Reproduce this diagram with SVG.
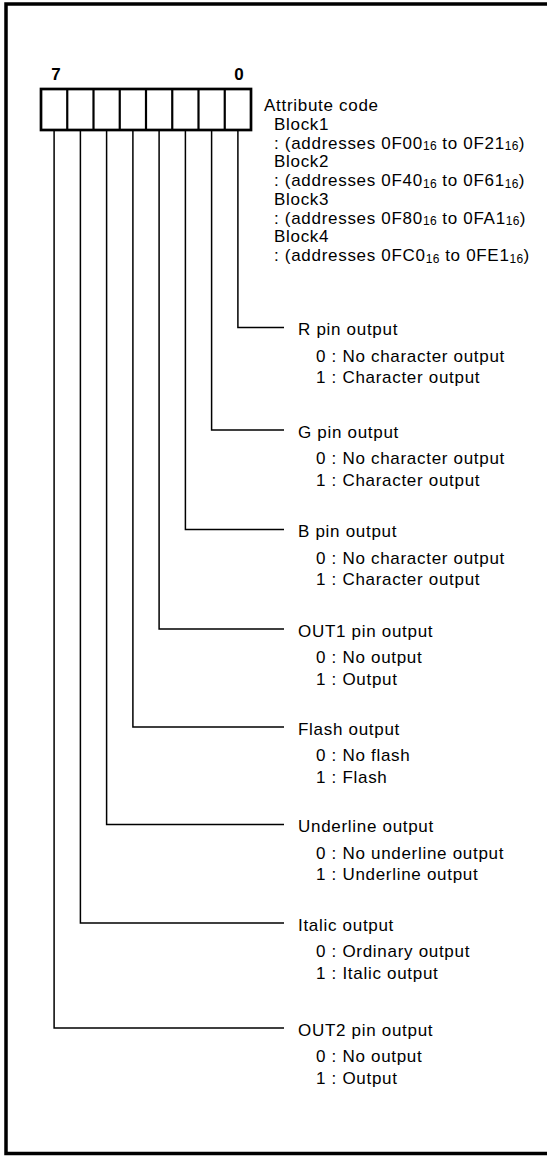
<svg xmlns="http://www.w3.org/2000/svg" width="547" height="1156" viewBox="0 0 547 1156">
<style>
text{font-family:"Liberation Sans",Arial,sans-serif;fill:#000;font-size:17px;letter-spacing:0.7px}
.bit{font-weight:bold;font-size:17px;text-anchor:middle;letter-spacing:0}
.sub{font-size:12px;letter-spacing:0.3px}
.frame{fill:none;stroke:#000;stroke-width:3.5}
.reg{fill:#fff;stroke:#000;stroke-width:2.7}
.div{stroke:#000;stroke-width:2.2}
.conn{fill:none;stroke:#000;stroke-width:1.5}
</style>
<rect width="547" height="1156" fill="#fff"/>
<path class="frame" d="M560,4 L6,4 L6,1153.5 L560,1153.5"/>
<g id="register">
<text class="bit" x="56" y="80">7</text>
<text class="bit" x="239" y="80">0</text>
<rect class="reg" x="41" y="89" width="210" height="41"/>
<path class="div" d="M67.25,89V130M93.5,89V130M119.75,89V130M146,89V130M172.25,89V130M198.5,89V130M224.75,89V130"/>
</g>
<g id="attribute">
<text x="264" y="111">Attribute code</text>
<text x="274" y="129.75">Block1</text>
<text x="274" y="148.5">: (addresses 0F00<tspan class="sub" dy="1.5">16</tspan><tspan dy="-1.5"> to 0F21</tspan><tspan class="sub" dy="1.5">16</tspan><tspan dy="-1.5">)</tspan></text>
<text x="274" y="167.25">Block2</text>
<text x="274" y="186">: (addresses 0F40<tspan class="sub" dy="1.5">16</tspan><tspan dy="-1.5"> to 0F61</tspan><tspan class="sub" dy="1.5">16</tspan><tspan dy="-1.5">)</tspan></text>
<text x="274" y="204.75">Block3</text>
<text x="274" y="223.5">: (addresses 0F80<tspan class="sub" dy="1.5">16</tspan><tspan dy="-1.5"> to 0FA1</tspan><tspan class="sub" dy="1.5">16</tspan><tspan dy="-1.5">)</tspan></text>
<text x="274" y="242.25">Block4</text>
<text x="274" y="261">: (addresses 0FC0<tspan class="sub" dy="1.5">16</tspan><tspan dy="-1.5"> to 0FE1</tspan><tspan class="sub" dy="1.5">16</tspan><tspan dy="-1.5">)</tspan></text>
</g>
<g id="connectors">
<path class="conn" d="M237.9,130V327.5H284"/>
<path class="conn" d="M211.6,130V430H284"/>
<path class="conn" d="M185.4,130V529.5H284"/>
<path class="conn" d="M159.1,130V629H284"/>
<path class="conn" d="M132.9,130V727H284"/>
<path class="conn" d="M106.6,130V824.5H284"/>
<path class="conn" d="M80.4,130V923H284"/>
<path class="conn" d="M54.1,130V1028H284"/>
</g>
<g id="bit0">
<text x="298" y="335">R pin output</text>
<text x="316" y="361.5">0 : No character output</text>
<text x="316" y="383">1 : Character output</text>
</g>
<g id="bit1">
<text x="298" y="437.5">G pin output</text>
<text x="316" y="464">0 : No character output</text>
<text x="316" y="485.5">1 : Character output</text>
</g>
<g id="bit2">
<text x="298" y="537">B pin output</text>
<text x="316" y="563.5">0 : No character output</text>
<text x="316" y="585">1 : Character output</text>
</g>
<g id="bit3">
<text x="298" y="636.5">OUT1 pin output</text>
<text x="316" y="663">0 : No output</text>
<text x="316" y="684.5">1 : Output</text>
</g>
<g id="bit4">
<text x="298" y="734.5">Flash output</text>
<text x="316" y="761">0 : No flash</text>
<text x="316" y="782.5">1 : Flash</text>
</g>
<g id="bit5">
<text x="298" y="832">Underline output</text>
<text x="316" y="858.5">0 : No underline output</text>
<text x="316" y="880">1 : Underline output</text>
</g>
<g id="bit6">
<text x="298" y="930.5">Italic output</text>
<text x="316" y="957">0 : Ordinary output</text>
<text x="316" y="978.5">1 : Italic output</text>
</g>
<g id="bit7">
<text x="298" y="1035.5">OUT2 pin output</text>
<text x="316" y="1062">0 : No output</text>
<text x="316" y="1083.5">1 : Output</text>
</g>
</svg>
